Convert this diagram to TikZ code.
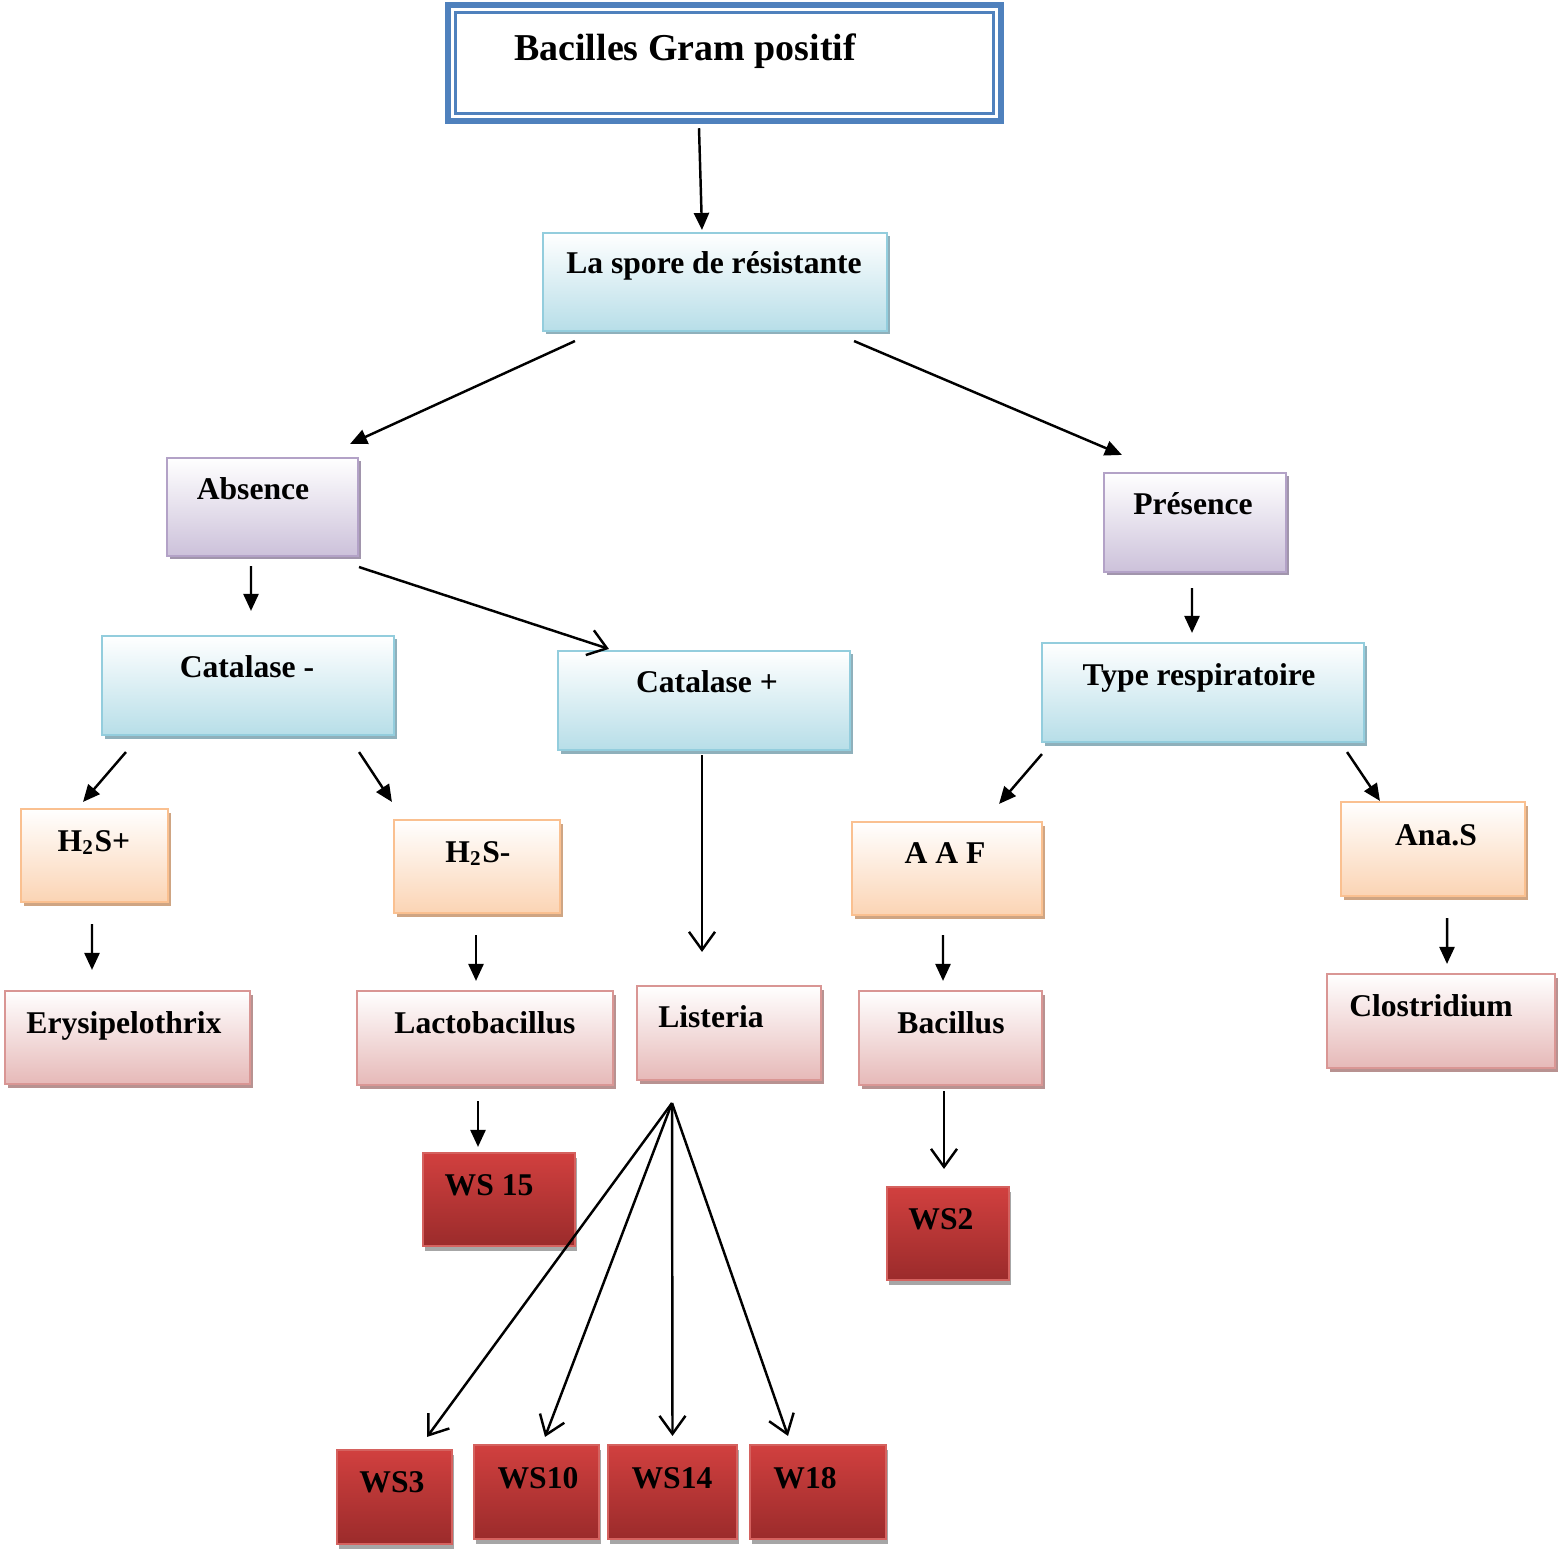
\documentclass[tikz,border=0pt]{standalone}
\usepackage{fontspec}
\setmainfont{Liberation Serif}
\usepackage{tikz}
\usetikzlibrary{arrows.meta, shadows}

\definecolor{titleblue}{HTML}{4F81BD}
\definecolor{bluline}{HTML}{93CDDD}
\definecolor{blufill}{HTML}{B7DEE8}
\definecolor{blushad}{HTML}{8FB0BB}
\definecolor{purline}{HTML}{B3A2C7}
\definecolor{purfill}{HTML}{CCC1DA}
\definecolor{purshad}{HTML}{A195AC}
\definecolor{oraline}{HTML}{FAC090}
\definecolor{orafill}{HTML}{FBD4B4}
\definecolor{orashad}{HTML}{CFA583}
\definecolor{pnkline}{HTML}{D99694}
\definecolor{pnkfill}{HTML}{E6B9B8}
\definecolor{pnkshad}{HTML}{B89291}
\definecolor{redline}{HTML}{D5625F}
\definecolor{redtop}{HTML}{D1403F}
\definecolor{redbot}{HTML}{9B2B2B}
\definecolor{redshad}{HTML}{A6A6A6}

\tikzset{
  box/.style={draw, line width=0.6pt, inner sep=0pt, shading angle=0},
  blubox/.style={box, draw=bluline, top color=white, bottom color=blufill,
    drop shadow={shadow xshift=0.03cm, shadow yshift=-0.035cm, fill=blushad, opacity=1}},
  purbox/.style={box, draw=purline, top color=white, bottom color=purfill,
    drop shadow={shadow xshift=0.03cm, shadow yshift=-0.035cm, fill=purshad, opacity=1}},
  orabox/.style={box, draw=oraline, top color=white, bottom color=orafill,
    drop shadow={shadow xshift=0.03cm, shadow yshift=-0.035cm, fill=orashad, opacity=1}},
  pnkbox/.style={box, draw=pnkline, top color=white, bottom color=pnkfill,
    drop shadow={shadow xshift=0.03cm, shadow yshift=-0.035cm, fill=pnkshad, opacity=1}},
  redbox/.style={box, draw=redline, top color=redtop, bottom color=redbot,
    drop shadow={shadow xshift=0.02cm, shadow yshift=-0.05cm, fill=redshad, opacity=1}},
  lbl/.style={anchor=base, inner sep=0pt, font=\bfseries\fontsize{9pt}{10pt}\selectfont},
  tip/.style={line width=0.7pt, -{Triangle[length=1.7mm, width=1.5mm]}},
  opentip/.style={line width=0.7pt, -{Straight Barb[length=1.8mm, width=2.6mm]}}
}

\begin{document}
\begin{tikzpicture}
  \useasboundingbox (0,0) rectangle (15.59,-15.51);

  % title
  \node[draw=titleblue, line width=0.065cm, inner sep=0pt, minimum width=5.53cm, minimum height=1.16cm] (title) at (7.245,-0.63) {};
  \draw[titleblue, line width=0.03cm] ([shift={(0.11,-0.11)}]title.north west) rectangle ([shift={(-0.11,0.11)}]title.south east);
  \node[lbl, font=\bfseries\fontsize{10.8pt}{12pt}\selectfont] (title-t) at (6.85,-0.61) {Bacilles Gram positif};

  % second level
  \node[blubox, minimum width=3.44cm, minimum height=0.98cm] (spore) at (7.15,-2.82) {};
  \node[lbl] (spore-t) at (7.14,-2.74) {La spore de résistante};
  \node[purbox, minimum width=1.91cm, minimum height=0.98cm] (absence) at (2.625,-5.07) {};
  \node[lbl] (absence-t) at (2.53,-5.00) {Absence};
  \node[purbox, minimum width=1.82cm, minimum height=0.99cm] (presence) at (11.95,-5.225) {};
  \node[lbl] (presence-t) at (11.93,-5.15) {Présence};

  % tests
  \node[blubox, minimum width=2.92cm, minimum height=0.99cm] (catm) at (2.48,-6.855) {};
  \node[lbl] (catm-t) at (2.47,-6.78) {Catalase -};
  \node[blubox, minimum width=2.92cm, minimum height=0.99cm] (catp) at (7.04,-7.005) {};
  \node[lbl] (catp-t) at (7.07,-6.93) {Catalase +};
  \node[blubox, minimum width=3.22cm, minimum height=0.99cm] (resp) at (12.03,-6.925) {};
  \node[lbl] (resp-t) at (11.99,-6.85) {Type respiratoire};

  \node[orabox, minimum width=1.47cm, minimum height=0.93cm] (hsp) at (0.945,-8.555) {};
  \node[lbl] (hsp-t) at (0.94,-8.51) {H\textsubscript{2}S+};
  \node[orabox, minimum width=1.66cm, minimum height=0.93cm] (hsm) at (4.77,-8.665) {};
  \node[lbl] (hsm-t) at (4.78,-8.62) {H\textsubscript{2}S-};
  \node[orabox, minimum width=1.90cm, minimum height=0.93cm] (aaf) at (9.47,-8.685) {};
  \node[lbl] (aaf-t) at (9.45,-8.63) {A A F};
  \node[orabox, minimum width=1.84cm, minimum height=0.94cm] (anas) at (14.33,-8.49) {};
  \node[lbl] (anas-t) at (14.36,-8.45) {Ana.S};

  % genera
  \node[pnkbox, minimum width=2.45cm, minimum height=0.93cm] (ery) at (1.275,-10.375) {};
  \node[lbl] (ery-t) at (1.24,-10.33) {Erysipelothrix};
  \node[pnkbox, minimum width=2.56cm, minimum height=0.94cm] (lacto) at (4.85,-10.38) {};
  \node[lbl] (lacto-t) at (4.85,-10.33) {Lactobacillus};
  \node[pnkbox, minimum width=1.84cm, minimum height=0.94cm] (list) at (7.29,-10.33) {};
  \node[lbl] (list-t) at (7.11,-10.27) {Listeria};
  \node[pnkbox, minimum width=1.83cm, minimum height=0.94cm] (bac) at (9.505,-10.38) {};
  \node[lbl] (bac-t) at (9.51,-10.33) {Bacillus};
  \node[pnkbox, minimum width=2.28cm, minimum height=0.94cm] (clos) at (14.41,-10.21) {};
  \node[lbl] (clos-t) at (14.31,-10.16) {Clostridium};

  % strains
  \node[redbox, minimum width=1.52cm, minimum height=0.93cm] (ws15) at (4.99,-11.995) {};
  \node[lbl] (ws15-t) at (4.89,-11.95) {WS 15};
  \node[redbox, minimum width=1.22cm, minimum height=0.93cm] (ws2) at (9.48,-12.335) {};
  \node[lbl] (ws2-t) at (9.41,-12.29) {WS2};
  \node[redbox, minimum width=1.15cm, minimum height=0.94cm] (ws3) at (3.945,-14.97) {};
  \node[lbl] (ws3-t) at (3.92,-14.92) {WS3};
  \node[redbox, minimum width=1.25cm, minimum height=0.94cm] (ws10) at (5.365,-14.92) {};
  \node[lbl] (ws10-t) at (5.38,-14.88) {WS10};
  \node[redbox, minimum width=1.29cm, minimum height=0.94cm] (ws14) at (6.725,-14.92) {};
  \node[lbl] (ws14-t) at (6.72,-14.88) {WS14};
  \node[redbox, minimum width=1.36cm, minimum height=0.94cm] (w18) at (8.18,-14.92) {};
  \node[lbl] (w18-t) at (8.05,-14.88) {W18};

  % arrows
  \draw[tip] ([shift={(-0.255,-0.04)}]title.south) -- ([shift={(-0.13,0.02)}]spore.north);
  \draw[tip] ([shift={(0.33,-0.09)}]spore.south west) -- ([shift={(-0.09,0.13)}]absence.north east);
  \draw[tip] ([shift={(-0.34,-0.09)}]spore.south east) -- ([shift={(0.19,0.17)}]presence.north west);
  \draw[tip] ([shift={(-0.115,-0.09)}]absence.south) -- ([shift={(0.03,0.24)}]catm.north);
  \draw[opentip] ([shift={(0,-0.10)}]absence.south east) -- ([shift={(0.52,0.01)}]catp.north west);
  \draw[tip] ([shift={(-0.03,-0.15)}]presence.south) -- ([shift={(-0.11,0.09)}]resp.north);
  \draw[tip] ([shift={(0.25,-0.16)}]catm.south west) -- ([shift={(-0.115,0.06)}]hsp.north);
  \draw[tip] ([shift={(-0.36,-0.16)}]catm.south east) -- ([shift={(-0.01,0.17)}]hsm.north west);
  \draw[opentip] ([shift={(-0.02,-0.04)}]catp.south) -- ([shift={(-0.27,0.33)}]list.north);
  \draw[tip] ([shift={(0.01,-0.11)}]resp.south west) -- ([shift={(-0.44,0.17)}]aaf.north east);
  \draw[tip] ([shift={(-0.18,-0.09)}]resp.south east) -- ([shift={(0.40,0)}]anas.north west);
  \draw[tip] ([shift={(-0.025,-0.21)}]hsp.south) -- ([shift={(-0.355,0.20)}]ery.north);
  \draw[tip] ([shift={(-0.01,-0.21)}]hsm.south) -- ([shift={(-0.09,0.09)}]lacto.north);
  \draw[tip] ([shift={(-0.04,-0.19)}]aaf.south) -- ([shift={(-0.075,0.09)}]bac.north);
  \draw[tip] ([shift={(0.14,-0.21)}]anas.south) -- ([shift={(0.06,0.09)}]clos.north);
  \draw[tip] ([shift={(-0.07,-0.15)}]lacto.south) -- ([shift={(-0.21,0.05)}]ws15.north);
  \draw[opentip] ([shift={(-0.065,-0.05)}]bac.south) -- ([shift={(-0.04,0.17)}]ws2.north);

  % Listeria fan
  \coordinate (fan) at ([shift={(-0.57,-0.22)}]list.south);
  \draw[opentip] (fan) -- ([shift={(0.325,0.12)}]ws3.north);
  \draw[opentip] (fan) -- ([shift={(0.085,0.07)}]ws10.north);
  \draw[opentip] (fan) -- ([shift={(0,0.08)}]ws14.north);
  \draw[opentip] (fan) -- ([shift={(-0.30,0.08)}]w18.north);
\end{tikzpicture}
\end{document}
